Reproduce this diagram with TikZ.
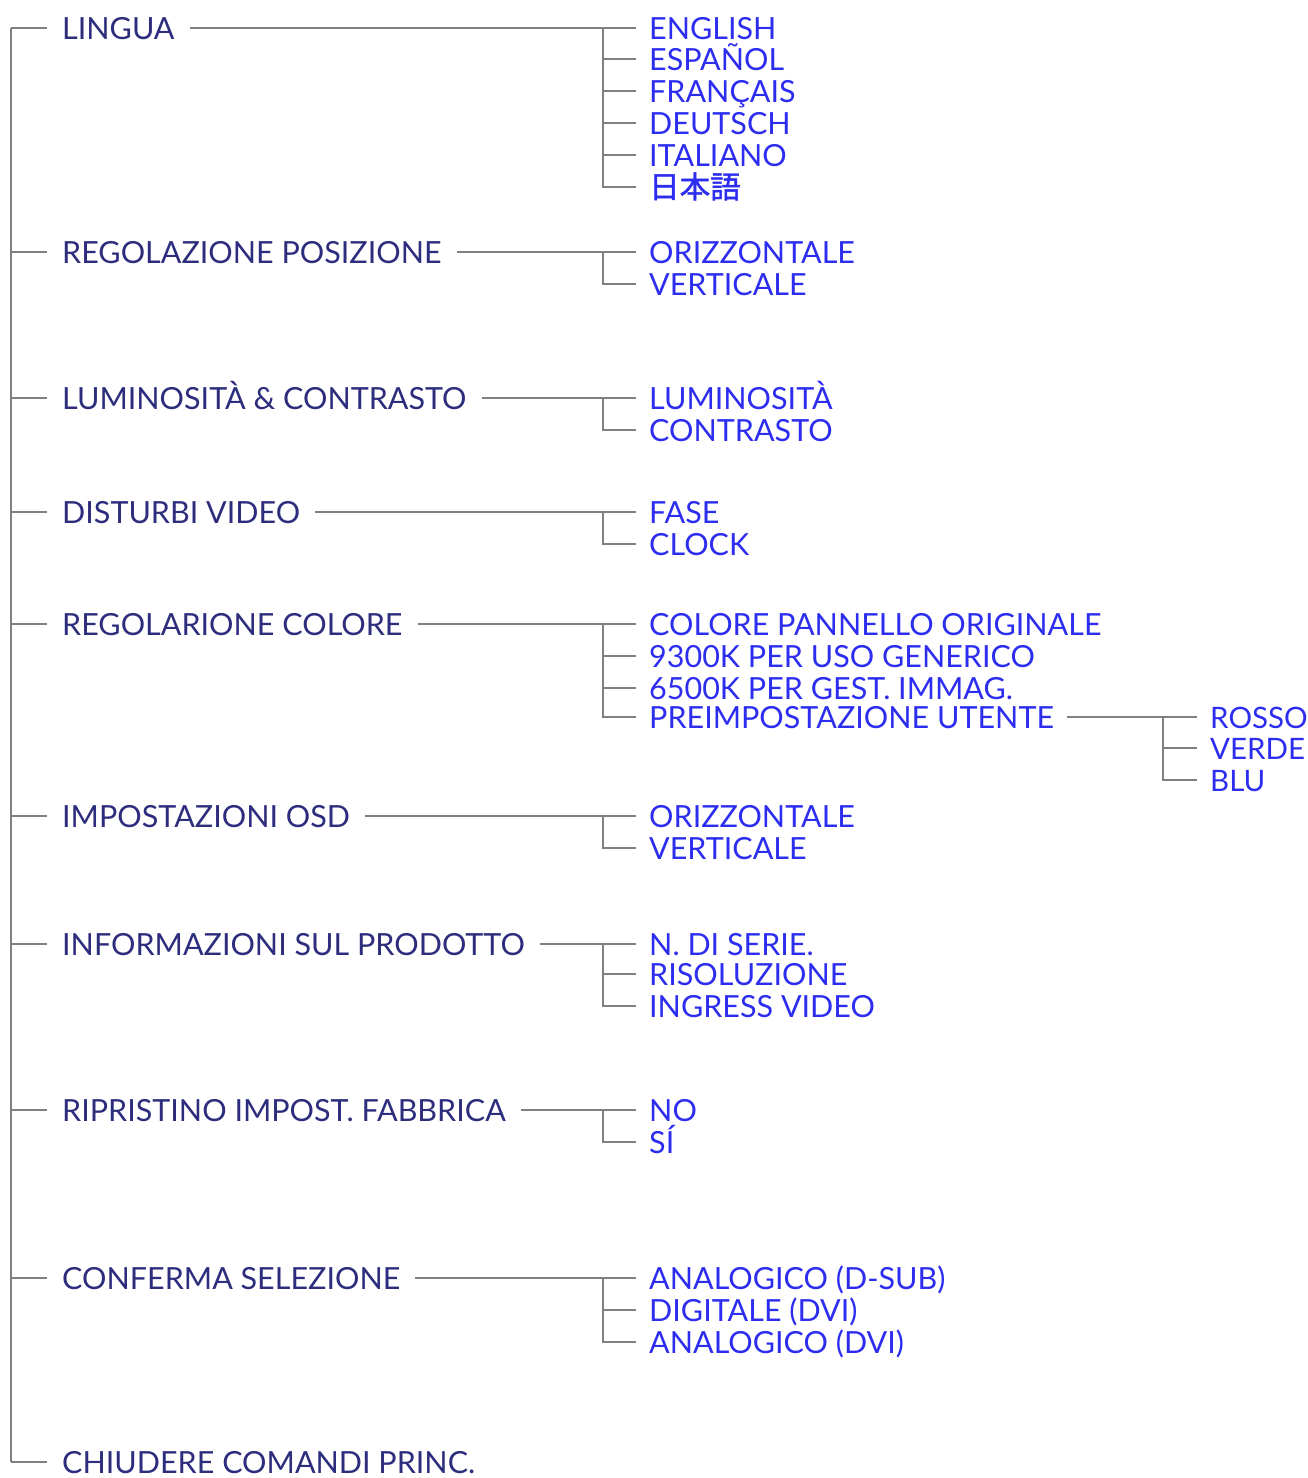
\documentclass[tikz,border=0pt]{standalone}
\usepackage{fontspec}
\setmainfont{Lato}
\newfontfamily\cjk[FakeBold=1.5]{Noto Sans CJK JP}
\definecolor{navy}{RGB}{45,45,125}
\definecolor{brightblue}{RGB}{45,45,240}
\definecolor{linegrey}{RGB}{128,128,128}
\tikzset{
  x=1pt,y=-1pt,
  conn/.style={draw=linegrey,line width=2pt},
  mainlbl/.style={anchor=west,inner xsep=15pt,inner ysep=0pt,text height=22pt,text depth=0pt,text=navy,font=\fontsize{30.5}{30}\selectfont},
  sublbl/.style={anchor=west,inner xsep=13pt,inner ysep=0pt,text height=22pt,text depth=0pt,text=brightblue,font=\fontsize{30.5}{30}\selectfont},
  smallsub/.style={sublbl,font=\fontsize{29.5}{30}\selectfont},
}
\begin{document}
\begin{tikzpicture}
\useasboundingbox (0,0) rectangle (1308,1478);
\coordinate (trunk) at (11,0);
\coordinate (bx) at (603,0);
\coordinate (bx2) at (1163,0);

% main items
\node[mainlbl] (m1) at (47,28) {LINGUA};
\node[mainlbl] (m2) at (47,252) {REGOLAZIONE POSIZIONE};
\node[mainlbl] (m3) at (47,398) {LUMINOSITÀ \& CONTRASTO};
\node[mainlbl] (m4) at (47,512) {DISTURBI VIDEO};
\node[mainlbl] (m5) at (47,624) {REGOLARIONE COLORE};
\node[mainlbl] (m6) at (47,816) {IMPOSTAZIONI OSD};
\node[mainlbl] (m7) at (47,944) {INFORMAZIONI SUL PRODOTTO};
\node[mainlbl] (m8) at (47,1110) {RIPRISTINO IMPOST. FABBRICA};
\node[mainlbl] (m9) at (47,1278) {CONFERMA SELEZIONE};
\node[mainlbl] (m10) at (47,1462) {CHIUDERE COMANDI PRINC.};

% trunk
\draw[conn] (m1.west -| trunk) -- (m10.west -| trunk);
\foreach \i in {1,...,10} \draw[conn] (m\i.west -| trunk) -- (m\i.west);

% sub items
\node[sublbl] (a1) at (636,28) {ENGLISH};
\node[sublbl] (a2) at (636,59) {ESPAÑOL};
\node[sublbl] (a3) at (636,91) {FRANÇAIS};
\node[sublbl] (a4) at (636,123) {DEUTSCH};
\node[sublbl] (a5) at (636,155) {ITALIANO};
\node[sublbl] (a6) at (636,187) {\cjk 日本語};

\node[sublbl] (b1) at (636,252) {ORIZZONTALE};
\node[sublbl] (b2) at (636,284) {VERTICALE};

\node[sublbl] (c1) at (636,398) {LUMINOSITÀ};
\node[sublbl] (c2) at (636,430) {CONTRASTO};

\node[sublbl] (d1) at (636,512) {FASE};
\node[sublbl] (d2) at (636,544) {CLOCK};

\node[sublbl] (e1) at (636,624) {COLORE PANNELLO ORIGINALE};
\node[sublbl] (e2) at (636,656) {9300K PER USO GENERICO};
\node[sublbl] (e3) at (636,688) {6500K PER GEST. IMMAG.};
\node[sublbl] (e4) at (636,717) {PREIMPOSTAZIONE UTENTE};

\node[smallsub] (u1) at (1197,717) {ROSSO};
\node[smallsub] (u2) at (1197,748) {VERDE};
\node[smallsub] (u3) at (1197,780) {BLU};

\node[sublbl] (f1) at (636,816) {ORIZZONTALE};
\node[sublbl] (f2) at (636,848) {VERTICALE};

\node[sublbl] (g1) at (636,944) {N. DI SERIE.};
\node[sublbl] (g2) at (636,974) {RISOLUZIONE};
\node[sublbl] (g3) at (636,1006) {INGRESS VIDEO};

\node[sublbl] (h1) at (636,1110) {NO};
\node[sublbl] (h2) at (636,1142) {SÍ};

\node[sublbl] (k1) at (636,1278) {ANALOGICO (D-SUB)};
\node[sublbl] (k2) at (636,1310) {DIGITALE (DVI)};
\node[sublbl] (k3) at (636,1342) {ANALOGICO (DVI)};

% connectors main -> first sub
\draw[conn] (m1.east) -- (a1.west);
\draw[conn] (m2.east) -- (b1.west);
\draw[conn] (m3.east) -- (c1.west);
\draw[conn] (m4.east) -- (d1.west);
\draw[conn] (m5.east) -- (e1.west);
\draw[conn] (m6.east) -- (f1.west);
\draw[conn] (m7.east) -- (g1.west);
\draw[conn] (m8.east) -- (h1.west);
\draw[conn] (m9.east) -- (k1.west);

% branch lines
\foreach \n in {a2,a3,a4,a5,a6} \draw[conn] (a1.west -| bx) |- (\n.west);
\draw[conn] (b1.west -| bx) |- (b2.west);
\draw[conn] (c1.west -| bx) |- (c2.west);
\draw[conn] (d1.west -| bx) |- (d2.west);
\foreach \n in {e2,e3,e4} \draw[conn] (e1.west -| bx) |- (\n.west);
\draw[conn] (f1.west -| bx) |- (f2.west);
\foreach \n in {g2,g3} \draw[conn] (g1.west -| bx) |- (\n.west);
\draw[conn] (h1.west -| bx) |- (h2.west);
\foreach \n in {k2,k3} \draw[conn] (k1.west -| bx) |- (\n.west);

% user preset branch
\draw[conn] (e4.east) -- (u1.west);
\foreach \n in {u2,u3} \draw[conn] (u1.west -| bx2) |- (\n.west);
\end{tikzpicture}
\end{document}
